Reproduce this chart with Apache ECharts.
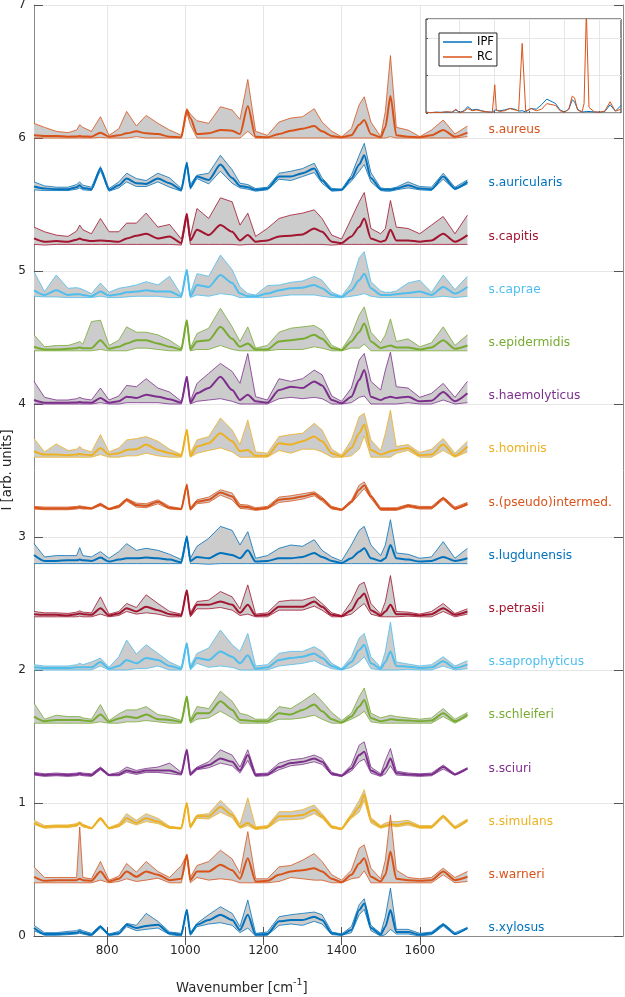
<!DOCTYPE html>
<html><head><meta charset="utf-8">
<script src="https://cdn.jsdelivr.net/npm/echarts@6/dist/echarts.min.js"></script>
<style>html,body{margin:0;padding:0;background:#fff}#c{width:625px;height:997px}</style>
</head><body><div id="c"></div>
<script>
const wavenumbers = [613,640,670,700,722,730,738,760,783,805,830,850,875,900,930,960,990,1004,1013,1030,1060,1090,1120,1140,1160,1180,1210,1240,1270,1300,1330,1350,1375,1400,1425,1445,1458,1475,1500,1512,1525,1540,1570,1600,1630,1660,1690,1722];
const xTickValues = [800,1000,1200,1400,1600];
const yTickLabels = ['0','1','2','3','4','5','6','7'];

const aureusMean = [0.02,0.015,0.015,0.01,0.012,0.015,0.012,0.01,0.04,0.01,0.02,0.035,0.05,0.035,0.03,0.01,0.005,0.21,0.15,0.03,0.035,0.06,0.055,0.03,0.24,0.01,0.005,0.03,0.055,0.07,0.09,0.05,0.015,0.005,0.02,0.1,0.135,0.03,0.005,0.08,0.315,0.02,0.01,0.005,0.02,0.06,0.01,0.04];
const aureusUpper = [0.11,0.08,0.05,0.04,0.06,0.1,0.08,0.05,0.16,0.02,0.07,0.2,0.09,0.17,0.11,0.06,0.02,0.22,0.18,0.13,0.11,0.235,0.21,0.14,0.44,0.05,0.02,0.12,0.15,0.16,0.22,0.12,0.05,0.01,0.07,0.25,0.31,0.12,0.01,0.2,0.62,0.08,0.06,0.01,0.06,0.135,0.03,0.09];
const aureusLower = [0,0,0,0,0,0,0,0,0.005,0,0,0,0.01,0,0,0,0,0.19,0.1,0,0,0,0,0,0.05,0,0,0,0,0,0,0,0,0,0,0,0,0,0,0,0.01,0,0,0,0,0,0,0.01];

const auricularisMean = [0.035,0.02,0.015,0.015,0.03,0.045,0.025,0.015,0.17,0.01,0.045,0.095,0.06,0.055,0.095,0.06,0.01,0.21,0.03,0.11,0.085,0.2,0.1,0.04,0.03,0.01,0.02,0.11,0.11,0.135,0.17,0.08,0.01,0.01,0.095,0.2,0.27,0.1,0.015,0.01,0.01,0.02,0.045,0.02,0.015,0.11,0.02,0.07];
const auricularisUpper = [0.07,0.04,0.03,0.03,0.05,0.07,0.045,0.03,0.185,0.02,0.07,0.135,0.095,0.08,0.135,0.1,0.02,0.22,0.05,0.12,0.135,0.27,0.16,0.06,0.05,0.02,0.03,0.135,0.15,0.17,0.21,0.1,0.02,0.015,0.12,0.27,0.36,0.14,0.025,0.02,0.02,0.03,0.07,0.035,0.03,0.135,0.03,0.085];
const auricularisLower = [0.01,0.005,0.005,0.005,0.015,0.025,0.01,0.005,0.155,0,0.025,0.07,0.035,0.035,0.07,0.03,0,0.2,0.015,0.095,0.055,0.15,0.06,0.025,0.015,0,0.01,0.09,0.08,0.11,0.14,0.06,0,0.005,0.075,0.15,0.2,0.07,0.005,0,0,0.01,0.025,0.01,0.005,0.09,0.01,0.055];

const capitisMean = [0.045,0.02,0.025,0.02,0.035,0.045,0.035,0.025,0.03,0.025,0.02,0.045,0.065,0.08,0.045,0.06,0.01,0.23,0.03,0.11,0.07,0.145,0.095,0.03,0.07,0.02,0.03,0.06,0.065,0.075,0.12,0.095,0.02,0.01,0.06,0.13,0.195,0.045,0.02,0.03,0.11,0.03,0.03,0.02,0.03,0.08,0.02,0.07];
const capitisUpper = [0.13,0.095,0.07,0.06,0.1,0.145,0.11,0.08,0.195,0.095,0.095,0.16,0.16,0.235,0.13,0.15,0.04,0.23,0.06,0.27,0.195,0.35,0.32,0.145,0.235,0.06,0.12,0.195,0.22,0.235,0.26,0.195,0.07,0.04,0.195,0.32,0.39,0.12,0.08,0.12,0.33,0.13,0.12,0.08,0.145,0.21,0.08,0.22];
const capitisLower = [0,-0.005,0,0,0,0,0,0,0,0,0,0,0,0,0,0,-0.005,0.2,0,0,0,0,0,-0.005,0,0,0,0,0,0,0,0,-0.005,0,0,0,0,0,0,0,0,0,0,0,0,0,0,0];

const capraeMean = [0.055,0.02,0.055,0.02,0.025,0.025,0.02,0.01,0.045,0.015,0.025,0.04,0.045,0.055,0.045,0.045,0.01,0.21,0.01,0.095,0.08,0.17,0.11,0.03,0.01,0.01,0.03,0.055,0.07,0.075,0.095,0.07,0.02,0.005,0.055,0.13,0.18,0.07,0.02,0.02,0.02,0.025,0.035,0.045,0.02,0.08,0.03,0.08];
const capraeUpper = [0.195,0.045,0.17,0.07,0.075,0.07,0.06,0.03,0.11,0.04,0.07,0.08,0.095,0.12,0.095,0.16,0.02,0.21,0.03,0.18,0.16,0.32,0.21,0.08,0.03,0.02,0.09,0.095,0.115,0.125,0.16,0.13,0.04,0.01,0.11,0.3,0.345,0.12,0.05,0.04,0.04,0.05,0.11,0.13,0.04,0.17,0.06,0.16];
const capraeLower = [0.01,0.005,0.005,0,0,0,0,0,0.01,0,0,0.005,0.01,0.01,0.01,0,0,0.2,0,0.02,0.01,0.03,0.02,0,0,0,0,0.01,0.02,0.02,0.02,0.01,0,0,0.01,0.02,0.03,0.01,0,0,0,0,0,0,0,0.01,0,0.01];

const epidermidisMean = [0.03,0.01,0.01,0.015,0.02,0.025,0.02,0.02,0.08,0.015,0.03,0.055,0.08,0.08,0.055,0.03,0.01,0.23,0.01,0.07,0.08,0.18,0.09,0.03,0.055,0.01,0.01,0.07,0.08,0.09,0.12,0.09,0.02,0.005,0.07,0.14,0.205,0.07,0.02,0.03,0.04,0.025,0.025,0.01,0.025,0.08,0.015,0.04];
const epidermidisUpper = [0.12,0.03,0.04,0.04,0.06,0.07,0.05,0.22,0.23,0.04,0.08,0.18,0.14,0.14,0.12,0.08,0.02,0.23,0.02,0.13,0.17,0.32,0.18,0.07,0.18,0.02,0.04,0.14,0.17,0.18,0.19,0.155,0.04,0.01,0.12,0.27,0.33,0.14,0.06,0.12,0.24,0.07,0.09,0.03,0.06,0.18,0.04,0.12];
const epidermidisLower = [0,0,0,0,0,0,0,0,0.01,0,0,0,0.02,0.02,0.01,0,0,0.22,0,0.01,0.01,0.04,0.01,0,0,0,0,0.01,0.01,0.01,0.03,0.02,0,0,0.02,0.02,0.05,0,0,0,0,0,0,0,0,0,0,0];

const haemolyticusMean = [0.03,0.01,0.01,0.01,0.012,0.015,0.012,0.01,0.045,0.01,0.02,0.055,0.045,0.07,0.055,0.035,0.01,0.205,0.01,0.08,0.12,0.205,0.105,0.03,0.07,0.02,0.01,0.105,0.13,0.12,0.17,0.14,0.03,0.005,0.055,0.18,0.255,0.055,0.03,0.045,0.055,0.045,0.055,0.02,0.025,0.09,0.02,0.08];
const haemolyticusUpper = [0.17,0.05,0.03,0.03,0.04,0.05,0.04,0.03,0.12,0.03,0.06,0.14,0.13,0.19,0.12,0.09,0.02,0.205,0.02,0.155,0.23,0.305,0.245,0.155,0.38,0.055,0.03,0.19,0.17,0.19,0.255,0.22,0.06,0.02,0.12,0.33,0.38,0.17,0.105,0.255,0.39,0.13,0.12,0.05,0.08,0.155,0.05,0.17];
const haemolyticusLower = [0,0,0,0,0,0,0,0,0.01,0,0,0.01,0.01,0.01,0.01,0,0,0.2,0,0.02,0.03,0.04,0.02,0,0,0,0,0.04,0.05,0.04,0.05,0.04,0,0,0.01,0.05,0.06,0,0,0,0,0,0.01,0,0,0.03,0,0.01];

const hominisMean = [0.045,0.02,0.02,0.015,0.02,0.025,0.02,0.015,0.07,0.02,0.03,0.055,0.06,0.095,0.055,0.03,0.01,0.205,0.01,0.08,0.105,0.18,0.12,0.045,0.055,0.01,0.01,0.105,0.095,0.12,0.155,0.12,0.03,0.005,0.07,0.18,0.245,0.055,0.02,0.03,0.045,0.055,0.07,0.015,0.02,0.095,0.01,0.08];
const hominisUpper = [0.14,0.04,0.1,0.05,0.06,0.08,0.06,0.04,0.17,0.04,0.07,0.13,0.14,0.155,0.12,0.06,0.02,0.21,0.03,0.13,0.155,0.295,0.205,0.095,0.28,0.04,0.03,0.155,0.17,0.18,0.255,0.205,0.06,0.015,0.13,0.305,0.33,0.13,0.05,0.18,0.355,0.08,0.095,0.035,0.06,0.14,0.03,0.12];
const hominisLower = [0,0,0,0,0,0,0,0,0.02,0,0,0.01,0.01,0.03,0.01,0,0,0.2,0,0.03,0.05,0.07,0.04,0,0,0,0,0.05,0.03,0.06,0.06,0.04,0,0,0.01,0.06,0.16,0,0,0,0,0.03,0.05,0,0,0.05,0,0.04];

const pseudintermedMean = [0.02,0.015,0.015,0.015,0.02,0.025,0.02,0.015,0.045,0.01,0.03,0.08,0.04,0.035,0.065,0.02,0.01,0.19,0.01,0.065,0.08,0.135,0.105,0.03,0.025,0.01,0.02,0.08,0.09,0.105,0.125,0.085,0.02,0.005,0.065,0.155,0.19,0.105,0.01,0.01,0.01,0.01,0.035,0.02,0.02,0.09,0.015,0.05];
const pseudintermedUpper = [0.03,0.025,0.025,0.025,0.03,0.035,0.03,0.02,0.055,0.015,0.04,0.09,0.055,0.05,0.08,0.03,0.015,0.2,0.02,0.08,0.1,0.155,0.13,0.045,0.04,0.02,0.03,0.1,0.11,0.125,0.14,0.1,0.03,0.01,0.075,0.19,0.215,0.12,0.02,0.02,0.02,0.02,0.045,0.03,0.03,0.1,0.025,0.06];
const pseudintermedLower = [0.01,0.005,0.005,0.005,0.01,0.015,0.01,0.01,0.035,0.005,0.02,0.07,0.025,0.02,0.05,0.01,0.005,0.18,0,0.05,0.06,0.115,0.08,0.015,0.01,0,0.01,0.06,0.07,0.085,0.11,0.07,0.01,0,0.055,0.12,0.165,0.09,0,0,0,0,0.025,0.01,0.01,0.08,0.005,0.04];

const lugdunensisMean = [0.065,0.02,0.02,0.025,0.025,0.03,0.025,0.02,0.045,0.015,0.03,0.04,0.04,0.045,0.04,0.03,0.01,0.2,0.02,0.05,0.04,0.08,0.065,0.04,0.1,0.015,0.02,0.04,0.04,0.05,0.08,0.05,0.02,0.005,0.04,0.09,0.115,0.04,0.02,0.04,0.14,0.04,0.03,0.015,0.02,0.05,0.02,0.04];
const lugdunensisUpper = [0.15,0.05,0.06,0.06,0.06,0.12,0.06,0.05,0.09,0.04,0.09,0.15,0.1,0.115,0.1,0.07,0.03,0.21,0.04,0.13,0.19,0.28,0.25,0.14,0.24,0.04,0.06,0.115,0.14,0.13,0.18,0.1,0.05,0.02,0.14,0.25,0.28,0.14,0.06,0.14,0.33,0.08,0.07,0.04,0.05,0.165,0.04,0.115];
const lugdunensisLower = [0,0,0,0,0,0,0,0,0,0,0,0,0,0,0,0,0,0.19,0,0,-0.005,0,0,0,0,0,0,0,0,0,0,0,0,0,0,0,0,0,0,0,0,0,0,0,0,0,0,0];

const petrasiiMean = [0.02,0.015,0.015,0.01,0.02,0.025,0.02,0.015,0.065,0.01,0.025,0.065,0.04,0.075,0.05,0.02,0.01,0.2,0.015,0.09,0.09,0.115,0.09,0.03,0.09,0.01,0.015,0.075,0.075,0.075,0.115,0.075,0.015,0.005,0.05,0.14,0.175,0.05,0.01,0.04,0.09,0.02,0.02,0.01,0.02,0.065,0.015,0.04];
const petrasiiUpper = [0.04,0.03,0.03,0.025,0.035,0.045,0.035,0.03,0.15,0.02,0.04,0.1,0.07,0.165,0.1,0.04,0.02,0.2,0.03,0.115,0.125,0.19,0.15,0.06,0.24,0.02,0.03,0.115,0.125,0.125,0.15,0.1,0.03,0.01,0.115,0.24,0.26,0.1,0.02,0.115,0.31,0.04,0.035,0.02,0.04,0.1,0.025,0.06];
const petrasiiLower = [0,0,0,0,0,0.005,0,0,0.02,0,0.01,0.04,0.02,0.03,0.02,0,0,0.19,0,0.06,0.06,0.07,0.05,0.01,0.02,0,0,0.05,0.05,0.05,0.08,0.05,0,0,0.02,0.07,0.1,0.02,0,0,0,0,0.005,0,0,0.04,0,0.02];

const saprophyticusMean = [0.02,0.015,0.015,0.015,0.02,0.02,0.02,0.02,0.06,0.01,0.03,0.075,0.05,0.09,0.075,0.03,0.01,0.2,0.015,0.09,0.075,0.14,0.1,0.05,0.11,0.01,0.02,0.075,0.09,0.1,0.125,0.09,0.03,0.005,0.06,0.15,0.19,0.05,0.01,0.06,0.14,0.03,0.025,0.015,0.02,0.065,0.015,0.04];
const saprophyticusUpper = [0.04,0.03,0.03,0.03,0.04,0.05,0.04,0.06,0.09,0.02,0.1,0.225,0.12,0.19,0.125,0.06,0.02,0.205,0.03,0.125,0.165,0.3,0.19,0.14,0.275,0.03,0.04,0.125,0.14,0.14,0.175,0.14,0.05,0.01,0.1,0.24,0.275,0.1,0.02,0.14,0.36,0.06,0.045,0.03,0.04,0.1,0.03,0.07];
const saprophyticusLower = [0,0,0,0,0,0,0,0,0.03,0,0,0,0.01,0.01,0.03,0,0,0.19,0,0.05,0.02,0.03,0.02,0,0,0,0,0.03,0.04,0.05,0.07,0.04,0.01,0,0.02,0.06,0.1,0.01,0,0,0,0,0.005,0,0,0.03,0,0.01];

const schleiferiMean = [0.05,0.015,0.025,0.025,0.025,0.025,0.02,0.015,0.065,0.01,0.035,0.05,0.04,0.065,0.03,0.025,0.01,0.2,0.015,0.075,0.075,0.165,0.1,0.025,0.02,0.015,0.015,0.075,0.065,0.1,0.14,0.09,0.03,0.005,0.05,0.125,0.175,0.04,0.015,0.02,0.03,0.025,0.02,0.015,0.02,0.075,0.015,0.065];
const schleiferiUpper = [0.15,0.03,0.06,0.05,0.05,0.05,0.04,0.03,0.14,0.02,0.07,0.1,0.1,0.125,0.065,0.05,0.02,0.2,0.025,0.125,0.11,0.24,0.165,0.075,0.06,0.03,0.03,0.125,0.11,0.165,0.225,0.165,0.08,0.02,0.075,0.2,0.265,0.075,0.04,0.05,0.06,0.05,0.04,0.03,0.04,0.11,0.03,0.08];
const schleiferiLower = [0,0,0,0,0,0,0,0,0.01,0,0,0.01,0.01,0.02,0.01,0,0,0.19,0,0.03,0.04,0.09,0.04,0,0,0,0,0.03,0.03,0.04,0.06,0.03,0,0,0.03,0.06,0.09,0.01,0,0,0,0,0,0,0,0.05,0,0.05];

const sciuriMean = [0.02,0.01,0.015,0.01,0.015,0.02,0.015,0.01,0.06,0.01,0.015,0.045,0.03,0.045,0.045,0.045,0.02,0.2,0.015,0.06,0.085,0.135,0.11,0.045,0.16,0.01,0.015,0.07,0.1,0.11,0.135,0.11,0.02,0.005,0.06,0.16,0.185,0.045,0.01,0.06,0.135,0.025,0.015,0.01,0.015,0.07,0.015,0.06];
const sciuriUpper = [0.03,0.02,0.025,0.02,0.025,0.03,0.025,0.02,0.07,0.015,0.03,0.07,0.045,0.06,0.07,0.1,0.03,0.2,0.025,0.07,0.11,0.2,0.16,0.07,0.2,0.02,0.025,0.1,0.125,0.135,0.16,0.135,0.03,0.01,0.085,0.235,0.26,0.07,0.02,0.12,0.21,0.04,0.025,0.02,0.025,0.085,0.02,0.065];
const sciuriLower = [0.01,0,0.005,0,0.005,0.01,0.005,0,0.05,0.005,0.005,0.03,0.015,0.03,0.03,0.02,0.01,0.19,0.005,0.05,0.065,0.1,0.08,0.025,0.12,0,0.005,0.05,0.08,0.09,0.11,0.09,0.01,0,0.04,0.11,0.13,0.025,0,0.02,0.08,0.01,0.005,0,0.005,0.055,0.01,0.055];

const simulansMean = [0.05,0.02,0.025,0.025,0.035,0.05,0.03,0.01,0.085,0.01,0.03,0.085,0.05,0.085,0.06,0.015,0.01,0.2,0.02,0.1,0.1,0.17,0.11,0.02,0.05,0.01,0.02,0.1,0.1,0.11,0.15,0.1,0.02,0.005,0.1,0.17,0.26,0.07,0.02,0.03,0.04,0.035,0.05,0.02,0.02,0.1,0.015,0.07];
const simulansUpper = [0.07,0.03,0.035,0.035,0.045,0.06,0.04,0.015,0.09,0.015,0.045,0.12,0.07,0.12,0.085,0.025,0.015,0.2,0.03,0.11,0.12,0.22,0.135,0.04,0.24,0.02,0.03,0.135,0.135,0.15,0.185,0.12,0.03,0.01,0.12,0.22,0.3,0.09,0.03,0.05,0.06,0.06,0.07,0.03,0.03,0.11,0.025,0.08];
const simulansLower = [0.04,0.01,0.015,0.015,0.025,0.04,0.02,0.005,0.075,0.005,0.02,0.06,0.035,0.06,0.045,0.01,0.005,0.19,0.01,0.085,0.08,0.13,0.09,0.01,0.03,0,0.01,0.07,0.075,0.08,0.12,0.085,0.01,0,0.085,0.13,0.22,0.05,0.01,0.02,0.03,0.02,0.035,0.01,0.01,0.09,0.005,0.06];

const warneriMean = [0.045,0.015,0.02,0.02,0.02,0.03,0.02,0.015,0.085,0.01,0.03,0.085,0.045,0.085,0.06,0.02,0.03,0.21,0.02,0.085,0.085,0.135,0.095,0.03,0.185,0.01,0.015,0.06,0.085,0.095,0.11,0.085,0.03,0.005,0.06,0.145,0.185,0.045,0.01,0.06,0.235,0.03,0.02,0.015,0.02,0.085,0.02,0.045];
const warneriUpper = [0.12,0.04,0.04,0.04,0.04,0.42,0.04,0.03,0.16,0.02,0.05,0.145,0.08,0.16,0.085,0.04,0.13,0.21,0.04,0.13,0.16,0.245,0.18,0.07,0.385,0.03,0.03,0.12,0.13,0.17,0.22,0.16,0.06,0.02,0.095,0.26,0.285,0.11,0.03,0.17,0.51,0.095,0.04,0.03,0.04,0.11,0.04,0.085];
const warneriLower = [0,0,0,0,0,0,0,0,0.02,0,0.01,0.03,0.01,0.02,0.035,0,0,0.2,0,0.04,0.02,0.03,0.02,0,0,0,0,0.01,0.04,0.03,0.02,0.02,0,0,0.03,0.04,0.09,0,0,0,0,0,0,0,0,0.06,0,0.01];

const xylosusMean = [0.06,0.015,0.015,0.02,0.025,0.035,0.025,0.01,0.07,0.01,0.02,0.085,0.06,0.075,0.085,0.02,0.01,0.195,0.015,0.085,0.12,0.16,0.12,0.045,0.16,0.01,0.015,0.11,0.12,0.12,0.145,0.12,0.02,0.01,0.045,0.195,0.245,0.06,0.01,0.07,0.195,0.03,0.03,0.01,0.02,0.085,0.015,0.06];
const xylosusUpper = [0.08,0.025,0.025,0.035,0.04,0.05,0.04,0.02,0.08,0.015,0.035,0.095,0.08,0.17,0.11,0.03,0.02,0.2,0.025,0.095,0.16,0.22,0.17,0.07,0.27,0.02,0.03,0.145,0.16,0.17,0.18,0.16,0.03,0.015,0.07,0.235,0.28,0.08,0.02,0.145,0.36,0.05,0.05,0.02,0.03,0.095,0.025,0.065];
const xylosusLower = [0.04,0.005,0.005,0.01,0.015,0.02,0.015,0,0.06,0.005,0.01,0.07,0.04,0.05,0.06,0.01,0,0.19,0.005,0.07,0.09,0.1,0.08,0.025,0.06,0,0.005,0.08,0.09,0.08,0.11,0.09,0.01,0.005,0.025,0.16,0.2,0.04,0,0.01,0.05,0.015,0.015,0,0.01,0.075,0.01,0.055];

const insetIPF = [0.02,0.01,0.02,0.02,0.025,0.03,0.025,0.02,0.08,0.02,0.06,0.17,0.08,0.1,0.06,0.03,0.02,0.08,0.03,0.06,0.08,0.12,0.1,0.05,0.06,0.03,0.12,0.1,0.22,0.37,0.3,0.25,0.08,0.03,0.1,0.35,0.3,0.1,0.03,0.03,0.04,0.04,0.03,0.02,0.04,0.22,0.05,0.2];
const insetRC = [0.02,0.01,0.02,0.01,0.03,0.05,0.03,0.02,0.1,0.0,0.05,0.12,0.06,0.08,0.05,0.03,0.02,0.75,0.08,0.04,0.06,0.12,0.08,0.06,1.85,0.05,0.12,0.06,0.1,0.25,0.22,0.2,0.06,0.02,0.1,0.45,0.4,0.08,0.02,0.25,2.7,0.15,0.03,0.02,0.05,0.3,0.05,0.1];

const speciesNames = ['s.aureus','s.auricularis','s.capitis','s.caprae','s.epidermidis','s.haemolyticus','s.hominis','s.(pseudo)intermed.','s.lugdunensis','s.petrasii','s.saprophyticus','s.schleiferi','s.sciuri','s.simulans','s.warneri','s.xylosus'];
const speciesOffsets = [6.0,5.6,5.2,4.8,4.4,4.0,3.6,3.2,2.8,2.4,2.0,1.6,1.2,0.8,0.4,0.0];
const speciesMeans = [aureusMean,auricularisMean,capitisMean,capraeMean,epidermidisMean,haemolyticusMean,hominisMean,pseudintermedMean,lugdunensisMean,petrasiiMean,saprophyticusMean,schleiferiMean,sciuriMean,simulansMean,warneriMean,xylosusMean];
const speciesUppers = [aureusUpper,auricularisUpper,capitisUpper,capraeUpper,epidermidisUpper,haemolyticusUpper,hominisUpper,pseudintermedUpper,lugdunensisUpper,petrasiiUpper,saprophyticusUpper,schleiferiUpper,sciuriUpper,simulansUpper,warneriUpper,xylosusUpper];
const speciesLowers = [aureusLower,auricularisLower,capitisLower,capraeLower,epidermidisLower,haemolyticusLower,hominisLower,pseudintermedLower,lugdunensisLower,petrasiiLower,saprophyticusLower,schleiferiLower,sciuriLower,simulansLower,warneriLower,xylosusLower];

const C = {blue:'#0072BD', orange:'#D95319', yellow:'#EDB120', purple:'#7E2F8E', green:'#77AC30', cyan:'#4DBEEE', red:'#A2142F'};
const speciesColors = [C.orange,C.blue,C.red,C.cyan,C.green,C.purple,C.yellow,C.orange,C.blue,C.red,C.cyan,C.green,C.purple,C.yellow,C.orange,C.blue];

const FONT = 'DejaVu Sans';
const AX = '#8a8a8a';
const TXT = '#262626';
const GRIDC = '#e6e6e6';
const LABEL_X = 1776, LABEL_DY = 0.06;

const series = [];
speciesNames.forEach((name, i) => {
  const off = speciesOffsets[i], col = speciesColors[i];
  const M = speciesMeans[i], U = speciesUppers[i], L = speciesLowers[i];
  series.push({type:'custom', name:name+'_band', xAxisIndex:0, yAxisIndex:0, silent:true, animation:false,
    data:[[wavenumbers[0], off]], encode:{x:0, y:1},
    renderItem:(params, api) => {
      const pts = [];
      for (let k = 0; k < wavenumbers.length; k++) pts.push(api.coord([wavenumbers[k], off + U[k]]));
      for (let k = wavenumbers.length - 1; k >= 0; k--) pts.push(api.coord([wavenumbers[k], off + L[k]]));
      return {type:'polygon', shape:{points:pts}, style:{fill:'#cccccc', stroke:null}};
    }});
  const base = {type:'line', xAxisIndex:0, yAxisIndex:0, symbol:'none', showSymbol:false, silent:true, animation:false};
  series.push(Object.assign({}, base, {name:name+'_upper', data: wavenumbers.map((v,k)=>[v, off+U[k]]), lineStyle:{color:col, width:0.8}}));
  series.push(Object.assign({}, base, {name:name+'_lower', data: wavenumbers.map((v,k)=>[v, off+L[k]]), lineStyle:{color:col, width:0.8}}));
  series.push(Object.assign({}, base, {name:name, smooth:0.25, smoothMonotone:'x', data: wavenumbers.map((v,k)=>[v, off+M[k]]), lineStyle:{color:col, width:2}}));
});
series.push({type:'custom', name:'labels', xAxisIndex:0, yAxisIndex:0, silent:true, animation:false,
  data: speciesNames.map((n,i)=>[LABEL_X, speciesOffsets[i]+LABEL_DY, i]), encode:{x:0, y:1},
  renderItem:(params, api) => {
    const i = api.value(2);
    const p = api.coord([api.value(0), api.value(1)]);
    return {type:'text', x:p[0], y:p[1], style:{text:speciesNames[i], fill:speciesColors[i], font:'12.2px "DejaVu Sans"', textAlign:'left', textVerticalAlign:'middle'}};
  }});
series.push({type:'line', name:'IPF', xAxisIndex:2, yAxisIndex:2, symbol:'none', animation:false, data: wavenumbers.map((v,k)=>[v, insetIPF[k]]), lineStyle:{color:C.blue, width:1}, itemStyle:{color:C.blue}});
series.push({type:'line', name:'RC', xAxisIndex:2, yAxisIndex:2, symbol:'none', animation:false, data: wavenumbers.map((v,k)=>[v, insetRC[k]]), lineStyle:{color:C.orange, width:1}, itemStyle:{color:C.orange}});

const tickCommon = {show:true, inside:true, length:9, lineStyle:{color:'#555', width:1}};
const option = {
  animation:false,
  backgroundColor:'#ffffff',
  textStyle:{fontFamily:FONT},
  grid:[
    {left:34, top:5, right:2, bottom:61, outerBoundsMode:'none', containLabel:false},
    {left:426, top:19, width:195, height:94, show:true, backgroundColor:'#ffffff', borderColor:'#262626', borderWidth:1, outerBoundsMode:'none', containLabel:false}
  ],
  legend:{data:[{name:'IPF', icon:'rect'},{name:'RC', icon:'rect'}], left:439, top:33, orient:'vertical', backgroundColor:'#fff', borderColor:'#262626', borderWidth:1, borderRadius:0,
    padding:[2,3,2,4], itemWidth:29, itemHeight:1.5, itemGap:1, selectedMode:false,
    textStyle:{fontSize:11.5, color:'#000', fontFamily:FONT, lineHeight:14}},
  xAxis:[
    {type:'value', gridIndex:0, min:613, max:2120, position:'bottom',
      axisLine:{show:true, lineStyle:{color:AX, width:1}}, axisTick:Object.assign({customValues:xTickValues}, tickCommon),
      axisLabel:{customValues:xTickValues, color:TXT, fontSize:12, margin:9, fontFamily:FONT, formatter:(v)=>String(v)},
      splitLine:{show:true, lineStyle:{color:GRIDC, width:1}}},
    {type:'value', gridIndex:0, min:613, max:2120, position:'top',
      axisLine:{show:true, lineStyle:{color:AX, width:1}}, axisTick:Object.assign({customValues:xTickValues}, tickCommon),
      axisLabel:{show:false}, splitLine:{show:false}},
    {type:'value', gridIndex:1, min:613, max:1722,
      axisLine:{show:false}, axisTick:{show:true, inside:true, length:2, customValues:xTickValues, lineStyle:{color:'#555'}},
      axisLabel:{show:false}, splitLine:{show:true, lineStyle:{color:GRIDC, width:1}}}
  ],
  yAxis:[
    {type:'value', gridIndex:0, min:0, max:7, interval:1, position:'left',
      axisLine:{show:true, lineStyle:{color:AX, width:1}}, axisTick:tickCommon,
      axisLabel:{color:TXT, fontSize:12, margin:8, fontFamily:FONT, formatter:(v)=>yTickLabels[v]},
      splitLine:{show:true, lineStyle:{color:GRIDC, width:1}}},
    {type:'value', gridIndex:0, min:0, max:7, interval:1, position:'right',
      axisLine:{show:true, lineStyle:{color:AX, width:1}}, axisTick:tickCommon,
      axisLabel:{show:false}, splitLine:{show:false}},
    {type:'value', gridIndex:1, min:0, max:2.5, interval:1,
      axisLine:{show:false}, axisTick:{show:true, inside:true, length:2, lineStyle:{color:'#555'}},
      axisLabel:{show:false}, splitLine:{show:true, lineStyle:{color:GRIDC, width:1}}}
  ],
  graphic:[
    {type:'text', left:176, top:978, silent:true,
      style:{text:'{a|Wavenumber [cm}{s|-1}{a|]}', fill:TXT,
        rich:{a:{fontSize:13.2, fontFamily:FONT, fill:TXT, lineHeight:22}, s:{fontSize:9.5, fontFamily:FONT, fill:TXT, verticalAlign:'top', lineHeight:12}}}},
    {type:'text', x:8, y:470, rotation:Math.PI/2, silent:true,
      style:{text:'I [arb. units]', fill:TXT, font:'13.2px "DejaVu Sans"', textAlign:'center', textVerticalAlign:'middle'}}
  ],
  series: series
};
const chart = echarts.init(document.getElementById('c'), null, {renderer:'canvas'});
chart.setOption(option);
</script></body></html>
